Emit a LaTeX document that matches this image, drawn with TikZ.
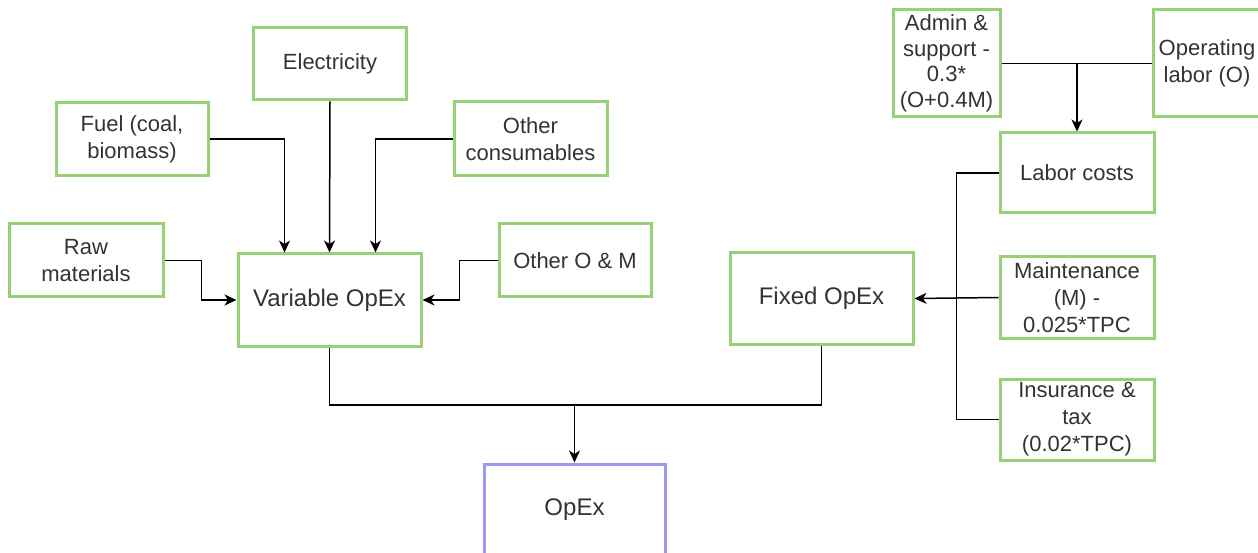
\documentclass[tikz,border=0pt]{standalone}
\usepackage{fontspec}
\setmainfont{Liberation Sans}
\usetikzlibrary{arrows.meta,calc}
\definecolor{boxgreen}{HTML}{97D077}
\definecolor{boxblue}{HTML}{9999EE}
\definecolor{txt}{HTML}{333333}
\tikzset{
  box/.style={draw=boxgreen, line width=3pt, fill=white, text=txt,
    align=center, inner sep=0pt, font=\fontsize{22}{27}\selectfont},
  bigbox/.style={box, font=\fontsize{24}{29}\selectfont},
  total/.style={bigbox, draw=boxblue},
  conn/.style={line width=1.5pt, black},
  arr/.style={conn, -{Stealth[length=12pt,width=11pt,inset=3.5pt]}}
}
\begin{document}
\begin{tikzpicture}[x=1pt,y=-1pt]
\useasboundingbox (0,0) rectangle (1258,553);
% variable cost inputs
\node[box, minimum width=153pt, minimum height=72pt] (elec) at (330,64) {Electricity};
\node[box, minimum width=152pt, minimum height=73pt] (fuel) at (132,139) {Fuel (coal,\\biomass)};
\node[box, minimum width=153pt, minimum height=74pt] (cons) at (530.5,139) {Other\\consumables};
\node[box, minimum width=154pt, minimum height=73pt] (raw) at (86,260.5) {Raw\\materials};
\node[box, minimum width=152pt, minimum height=73pt] (om) at (575,260.5) {Other O \& M};
\node[bigbox, minimum width=183pt, minimum height=92pt] (var) at (329.5,300) {Variable OpEx};
% fixed cost inputs
\node[box, minimum width=107pt, minimum height=107pt, font=\fontsize{22}{25.5}\selectfont] (admin) at (946.5,63.5) {Admin \&\\support -\\0.3*\\(O+0.4M)};
\node[box, minimum width=108pt, minimum height=107pt] (oper) at (1207,63.5) {Operating\\labor (O)};
\node[box, minimum width=154pt, minimum height=80pt] (labor) at (1077,173) {Labor costs};
\node[box, minimum width=154pt, minimum height=81pt] (maint) at (1077,297.5) {Maintenance\\(M) -\\0.025*TPC};
\node[box, minimum width=154pt, minimum height=81pt] (ins) at (1077,419.5) {Insurance \&\\tax\\(0.02*TPC)};
\node[bigbox, minimum width=183pt, minimum height=91pt] (fixed) at (821.5,298.5) {Fixed OpEx};
% total
\node[total, minimum width=181pt, minimum height=92pt] (opex) at (574.5,510) {OpEx};

% connectors into variable OpEx
\draw[arr] (fuel.east) -| ([xshift=-45pt]var.north);
\draw[arr] (elec.south) -- (var.north);
\draw[arr] (cons.west) -| ([xshift=46pt]var.north);
\draw[arr] (raw.east) -- ++(37,0) |- (var.west);
\draw[arr] (om.west) -- ++(-38,0) |- (var.east);
% labor costs
\coordinate (lj) at (labor.north |- admin.east);
\draw[conn] (admin.east) -- (oper.west);
\draw[arr] (lj) -- (labor.north);
% connectors into fixed OpEx
\draw[conn] (labor.west) -- ++(-42,0) |- (ins.west);
\draw[arr] (maint.west) -- (fixed.east);
% totals
\coordinate (tj) at (opex.north |- 0,405);
\draw[conn] (var.south) |- (tj);
\draw[conn] (fixed.south) |- (tj);
\draw[arr] (tj) -- (opex.north);
\end{tikzpicture}
\end{document}
